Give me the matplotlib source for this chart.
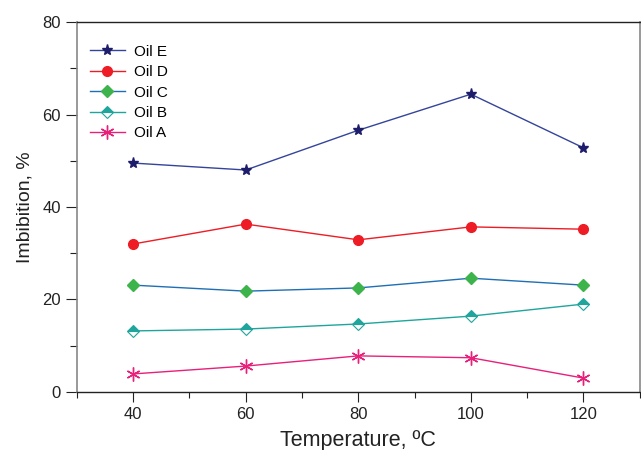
import matplotlib
matplotlib.use("Agg")
import matplotlib.pyplot as plt
from matplotlib.ticker import MultipleLocator

temps = [40, 60, 80, 100, 120]
oil_e = [49.5, 48.0, 56.6, 64.4, 52.8]
oil_d = [32.0, 36.3, 32.9, 35.7, 35.2]
oil_c = [23.1, 21.8, 22.5, 24.6, 23.1]
oil_b = [13.2, 13.6, 14.7, 16.4, 19.0]
oil_a = [3.9, 5.6, 7.8, 7.4, 3.0]

plt.rcParams['font.family'] = ['Liberation Sans', 'DejaVu Sans']

fig = plt.figure(figsize=(6.41, 4.5), dpi=100)
ax = fig.add_axes([0.12, 0.129, 0.878, 0.822])

ax.plot(temps, oil_e, color='#34449a', lw=1.0, marker='*', ms=8,
        mfc='#1d1d6b', mec='#1d1d6b', label='Oil E')
ax.plot(temps, oil_d, color='#ee1c25', lw=1.0, marker='o', ms=7,
        mfc='#ee1c25', mec='#ee1c25', label='Oil D')
ax.plot(temps, oil_c, color='#1f6fb4', lw=1.0, marker='D', ms=6.5,
        mfc='#3cb44b', mec='#3cb44b', label='Oil C')
ax.plot(temps, oil_b, color='#1fa59c', lw=1.0, marker='D', ms=6.5,
        fillstyle='top', mfc='#1fa59c', mfcalt='white', mec='#1fa59c', mew=0.8,
        label='Oil B')
ax.plot(temps, oil_a, color='#e8207a', lw=1.0, marker=(6, 2, 0), ms=10,
        mec='#e8207a', mew=1.0, label='Oil A')

ax.set_xlim(30, 130)
ax.set_ylim(0, 80)
ax.xaxis.set_major_locator(MultipleLocator(20))
ax.xaxis.set_minor_locator(MultipleLocator(10))
ax.yaxis.set_major_locator(MultipleLocator(20))
ax.yaxis.set_minor_locator(MultipleLocator(10))
ax.tick_params(which='both', direction='out', labelsize=12, colors='#222222')
ax.tick_params(axis='x', which='major', length=7, width=0.8)
ax.tick_params(axis='x', which='minor', length=4, width=0.8)
ax.tick_params(axis='y', which='major', length=8, width=0.8)
ax.tick_params(axis='y', which='minor', length=5, width=0.8)

for s in ['left', 'right']:
    ax.spines[s].set_color('#888888')
    ax.spines[s].set_linewidth(1.2)
for s in ['top', 'bottom']:
    ax.spines[s].set_color('#222222')
    ax.spines[s].set_linewidth(1.0)

ax.set_xlabel('Temperature, ºC', fontsize=15.5, color='#222222', labelpad=6)
ax.set_ylabel('Imbibition, %', fontsize=14, color='#222222', labelpad=6)

ax.legend(loc='upper left', frameon=False, fontsize=11, handlelength=2.3,
          handletextpad=0.6, labelspacing=0.42, borderaxespad=0.0,
          bbox_to_anchor=(0.012, 0.955))

fig.savefig('out.png', dpi=100)
